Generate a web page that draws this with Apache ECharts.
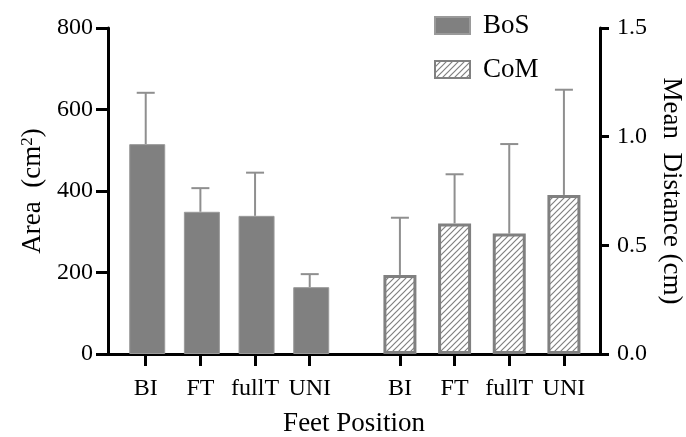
<!DOCTYPE html>
<html><head><meta charset="utf-8">
<script src="https://cdn.jsdelivr.net/npm/echarts@6/dist/echarts.min.js"></script>
<style>html,body{margin:0;padding:0;background:#fff}#c{width:686px;height:437px}</style>
</head><body><div id="c"></div>
<script>
// ---- data ----
const categories = ['BI', 'FT', 'fullT', 'UNI'];
const bosMean = [515, 349, 339, 164];      // Area (cm^2)
const bosSD   = [126, 58, 106, 32];
const comMean = [0.364, 0.601, 0.554, 0.732]; // Mean distance (cm)
const comSD   = [0.263, 0.226, 0.412, 0.484];
const leftTicks = [0, 200, 400, 600, 800];
const rightTicks = [0, 0.5, 1.0, 1.5];

// ---- layout / style ----
const FONT = 'Liberation Serif';
const GRAY = '#808080';
const ERR = '#8f8f8f';
const groupStart = [0.69, 5.34];
const bosX = categories.map((c, i) => groupStart[0] + i);
const comX = categories.map((c, i) => groupStart[1] + i);
const allX = bosX.concat(comX);
const allLabels = categories.concat(categories);

function hatch() {
  const s = 6;
  const cv = document.createElement('canvas');
  cv.width = s; cv.height = s;
  const g = cv.getContext('2d');
  g.fillStyle = '#fff'; g.fillRect(0, 0, s, s);
  g.strokeStyle = GRAY; g.lineWidth = 1.2;
  g.beginPath();
  g.moveTo(0, s); g.lineTo(s, 0);
  g.moveTo(-1, 1); g.lineTo(1, -1);
  g.moveTo(s - 1, s + 1); g.lineTo(s + 1, s - 1);
  g.stroke();
  return cv;
}

function errRender(params, api) {
  const x = api.value(0), m = api.value(1), t = api.value(2);
  const p0 = api.coord([x, m]), p1 = api.coord([x, t]);
  const hw = 9;
  return { type: 'group', children: [
    { type: 'line', shape: { x1: p0[0], y1: p0[1], x2: p1[0], y2: p1[1] }, style: { stroke: ERR, lineWidth: 2 } },
    { type: 'line', shape: { x1: p1[0] - hw, y1: p1[1], x2: p1[0] + hw, y2: p1[1] }, style: { stroke: ERR, lineWidth: 2 } }
  ]};
}

function labelFor(v) {
  let best = 0, bd = Infinity;
  allX.forEach((x, i) => { const d = Math.abs(x - v); if (d < bd) { bd = d; best = i; } });
  return allLabels[best];
}

const axisLineStyle = { color: '#000', width: 3 };
const txt = { fontFamily: FONT, color: '#000' };

const chart = echarts.init(document.getElementById('c'));
chart.setOption({
  animation: false,
  textStyle: { fontFamily: FONT },
  grid: { left: 108, right: 86, top: 28, bottom: 83, containLabel: false, outerBoundsMode: 'none' },
  legend: {
    data: ['BoS', 'CoM'], orient: 'vertical', left: 429, top: 7,
    itemWidth: 35, itemHeight: 17, itemGap: 17, icon: 'rect',
    selectedMode: false,
    textStyle: Object.assign({ fontSize: 27, padding: [0, 0, 0, 8] }, txt)
  },
  xAxis: {
    type: 'value', min: 0, max: 9,
    name: 'Feet Position', nameLocation: 'middle', nameGap: 56,
    nameTextStyle: Object.assign({ fontSize: 27 }, txt),
    axisLine: { show: true, onZero: false, lineStyle: axisLineStyle },
    axisTick: { show: true, length: 12, customValues: allX, lineStyle: { color: '#000', width: 3 } },
    axisLabel: Object.assign({ fontSize: 24, margin: 23, customValues: allX, formatter: labelFor }, txt),
    splitLine: { show: false }
  },
  yAxis: [{
    type: 'value', min: 0, max: 800, interval: 200, position: 'left',
    name: 'Area  (cm{sup|2})', nameLocation: 'middle', nameGap: 61, nameRotate: 90,
    nameTextStyle: Object.assign({ fontSize: 27, rich: { sup: { fontSize: 17, fontFamily: FONT, color: '#000', verticalAlign: 'top', padding: [0, 0, 10, 0] } } }, txt),
    axisLine: { show: true, onZero: false, lineStyle: axisLineStyle },
    axisTick: { show: true, length: 12, lineStyle: { color: '#000', width: 3 } },
    axisLabel: Object.assign({ fontSize: 24, margin: 15 }, txt),
    splitLine: { show: false }
  }, {
    type: 'value', min: 0, max: 1.5, interval: 0.5, position: 'right',
    name: 'Mean  Distance (cm)', nameLocation: 'middle', nameGap: 57, nameRotate: -90,
    nameTextStyle: Object.assign({ fontSize: 27 }, txt),
    axisLine: { show: true, onZero: false, lineStyle: axisLineStyle },
    axisTick: { show: true, length: 9, lineStyle: { color: '#000', width: 3 } },
    axisLabel: Object.assign({ fontSize: 24, margin: 17, formatter: v => v.toFixed(1) }, txt),
    splitLine: { show: false }
  }],
  series: [
    { type: 'custom', name: 'BoS err', z: 1, renderItem: errRender, silent: true,
      data: bosX.map((x, i) => [x, bosMean[i], bosMean[i] + bosSD[i]]) },
    { type: 'custom', name: 'CoM err', z: 1, yAxisIndex: 1, renderItem: errRender, silent: true,
      data: comX.map((x, i) => [x, comMean[i], comMean[i] + comSD[i]]) },
    { type: 'bar', name: 'BoS', z: 3, barWidth: 36, barGap: '-100%',
      itemStyle: { color: GRAY, borderColor: '#9a9a9a', borderWidth: 1 },
      data: bosX.map((x, i) => [x, bosMean[i]]) },
    { type: 'bar', name: 'CoM', z: 3, yAxisIndex: 1, barWidth: 33, barGap: '-100%',
      itemStyle: { color: { image: hatch(), repeat: 'repeat' }, borderColor: GRAY, borderWidth: 3 },
      data: comX.map((x, i) => [x, comMean[i]]) }
  ]
});
</script></body></html>
